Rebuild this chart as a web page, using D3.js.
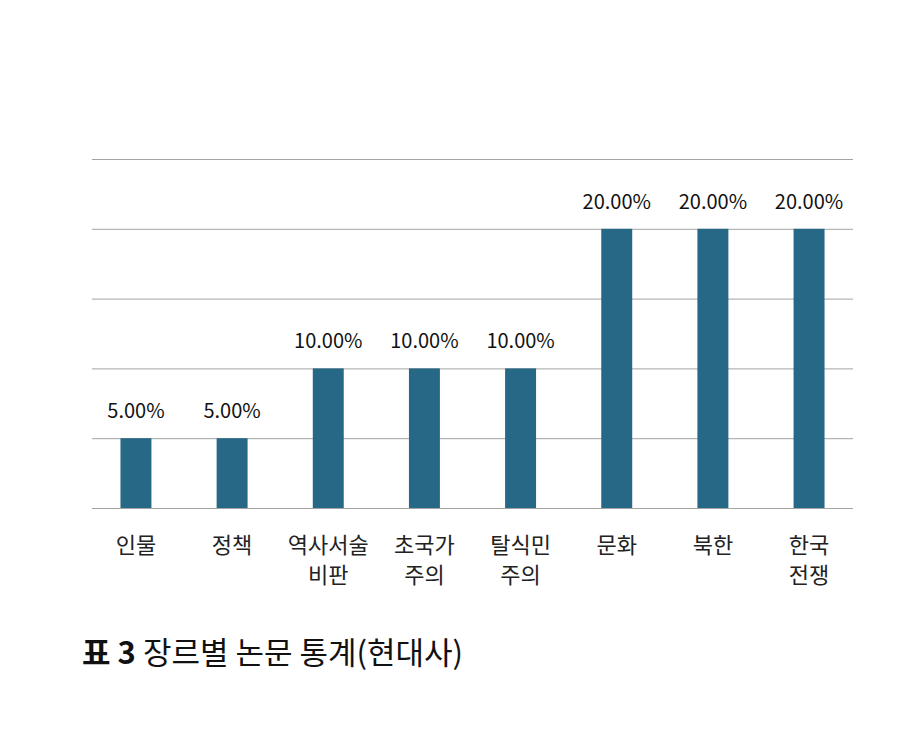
<!DOCTYPE html>
<html>
<head>
<meta charset="utf-8">
<script src="https://cdn.jsdelivr.net/npm/d3@7"></script>
<style>
  body { margin: 0; background: #fff; }
  svg text { font-family: "Noto Sans CJK KR", "Noto Sans", sans-serif; }
</style>
</head>
<body>
<div id="chart"></div>
<script>
const categories = [["인물"], ["정책"], ["역사서술", "비판"], ["초국가", "주의"], ["탈식민", "주의"], ["문화"], ["북한"], ["한국", "전쟁"]];
const shares = [0.05, 0.05, 0.10, 0.10, 0.10, 0.20, 0.20, 0.20];
const gridTicks = [0, 0.05, 0.10, 0.15, 0.20, 0.25];

const W = 916, H = 738;
const margin = {top: 159, right: 63, bottom: 230, left: 92};
const width = W - margin.left - margin.right,
      height = H - margin.top - margin.bottom;

const svg = d3.select("#chart").append("svg")
    .attr("width", W)
    .attr("height", H);

const g = svg.append("g")
    .attr("transform", `translate(${margin.left},${margin.top})`);

const idx = d3.range(categories.length);

const x = d3.scaleBand()
    .domain(idx)
    .range([0, width])
    .paddingInner(0.678)
    .paddingOuter(0.296);

const y = d3.scaleLinear()
    .domain([0, 0.25])
    .range([height, 0]);

// gridlines
g.append("g")
    .call(d3.axisLeft(y).tickValues(gridTicks).tickSize(-width).tickFormat(""))
    .call(a => a.select(".domain").remove())
    .selectAll(".tick line")
    .attr("stroke", "#a3a3a3")
    .attr("stroke-width", 1);

// bars
g.selectAll("rect.bar")
    .data(idx)
    .enter()
    .append("rect")
    .attr("class", "bar")
    .attr("x", i => x(i))
    .attr("y", i => y(shares[i]))
    .attr("width", x.bandwidth())
    .attr("height", i => height - y(shares[i]))
    .attr("fill", "#266885");

// value labels
g.selectAll("text.val")
    .data(idx)
    .enter()
    .append("text")
    .attr("class", "val")
    .attr("x", i => x(i) + x.bandwidth() / 2)
    .attr("y", i => y(shares[i]) - 20)
    .attr("text-anchor", "middle")
    .attr("font-size", 20)
    .attr("fill", "#111")
    .text(i => d3.format(".2%")(shares[i]));

// category labels
const cat = g.selectAll("text.cat")
    .data(idx)
    .enter()
    .append("text")
    .attr("class", "cat")
    .attr("x", i => x(i) + x.bandwidth() / 2)
    .attr("y", height + 45)
    .attr("text-anchor", "middle")
    .attr("font-size", 22)
    .attr("fill", "#222");

cat.selectAll("tspan")
    .data(i => categories[i].map(t => ({t, x: x(i) + x.bandwidth() / 2})))
    .enter()
    .append("tspan")
    .attr("x", d => d.x)
    .attr("dy", (d, j) => j === 0 ? 0 : 30)
    .text(d => d.t);

// caption
const cap = svg.append("text")
    .attr("x", 82)
    .attr("y", 664)
    .attr("font-size", 31)
    .attr("fill", "#111");
cap.append("tspan").attr("font-weight", "bold").text("표 3 ");
cap.append("tspan").text("장르별 논문 통계(현대사)");
</script>
</body>
</html>
